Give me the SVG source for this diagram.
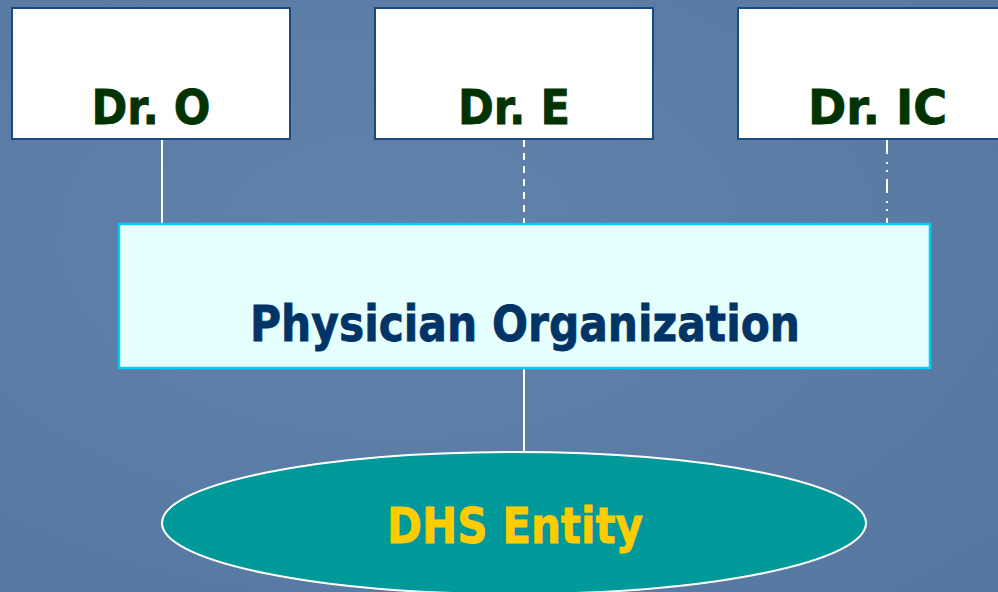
<svg xmlns="http://www.w3.org/2000/svg" width="998" height="592" viewBox="0 0 998 592">
<defs>
<style>
.dr rect{fill:#ffffff;stroke:#1b4a82;stroke-width:2}
.dr text{font-family:"DejaVu Sans","Liberation Sans",sans-serif;font-weight:bold;font-size:48px;fill:#003300;stroke:#003300;stroke-width:0.8;text-anchor:middle}
.po rect{fill:#e6ffff;stroke:#00ccff;stroke-width:2.5}
.po text{font-family:"DejaVu Sans","Liberation Sans",sans-serif;font-weight:bold;font-size:49px;fill:#003366;stroke:#003366;stroke-width:0.8;text-anchor:middle}
.dhs ellipse{fill:#009999;stroke:#ffffff;stroke-width:2}
.dhs text{font-family:"DejaVu Sans","Liberation Sans",sans-serif;font-weight:bold;font-size:49px;fill:#ffcc00;stroke:#ffcc00;stroke-width:0.8;text-anchor:middle}
.conn line{stroke:#ffffff;stroke-width:2;fill:none}
</style>
<radialGradient id="g" cx="0.4" cy="0.4" r="0.8">
<stop offset="0" stop-color="#6183ab"/>
<stop offset="1" stop-color="#56779f"/>
</radialGradient>
</defs>
<rect width="998" height="592" fill="url(#g)"/>
<g id="connectors" class="conn">
<line x1="162" y1="140" x2="162" y2="224"/>
<line x1="524" y1="140" x2="524" y2="224" stroke-dasharray="7 6"/>
<line x1="887" y1="140" x2="887" y2="224" stroke-dasharray="14 8 2 6 2 7"/>
<line x1="524" y1="368" x2="524" y2="452"/>
</g>
<g id="dr-o" class="dr">
<rect x="12" y="8" width="278" height="131"/>
<text x="151" y="124" textLength="119" lengthAdjust="spacingAndGlyphs">Dr. O</text>
</g>
<g id="dr-e" class="dr">
<rect x="375" y="8" width="278" height="131"/>
<text x="514" y="124" textLength="112" lengthAdjust="spacingAndGlyphs">Dr. E</text>
</g>
<g id="dr-ic" class="dr">
<rect x="738" y="8" width="278" height="131"/>
<text x="877.5" y="124" textLength="139" lengthAdjust="spacingAndGlyphs">Dr. IC</text>
</g>
<g id="physician-organization" class="po">
<rect x="119" y="224" width="811" height="144"/>
<text x="525" y="341" textLength="550" lengthAdjust="spacingAndGlyphs">Physician Organization</text>
</g>
<g id="dhs-entity" class="dhs">
<ellipse cx="514" cy="523" rx="352" ry="71"/>
<text x="515" y="543" textLength="256" lengthAdjust="spacingAndGlyphs">DHS Entity</text>
</g>
</svg>
